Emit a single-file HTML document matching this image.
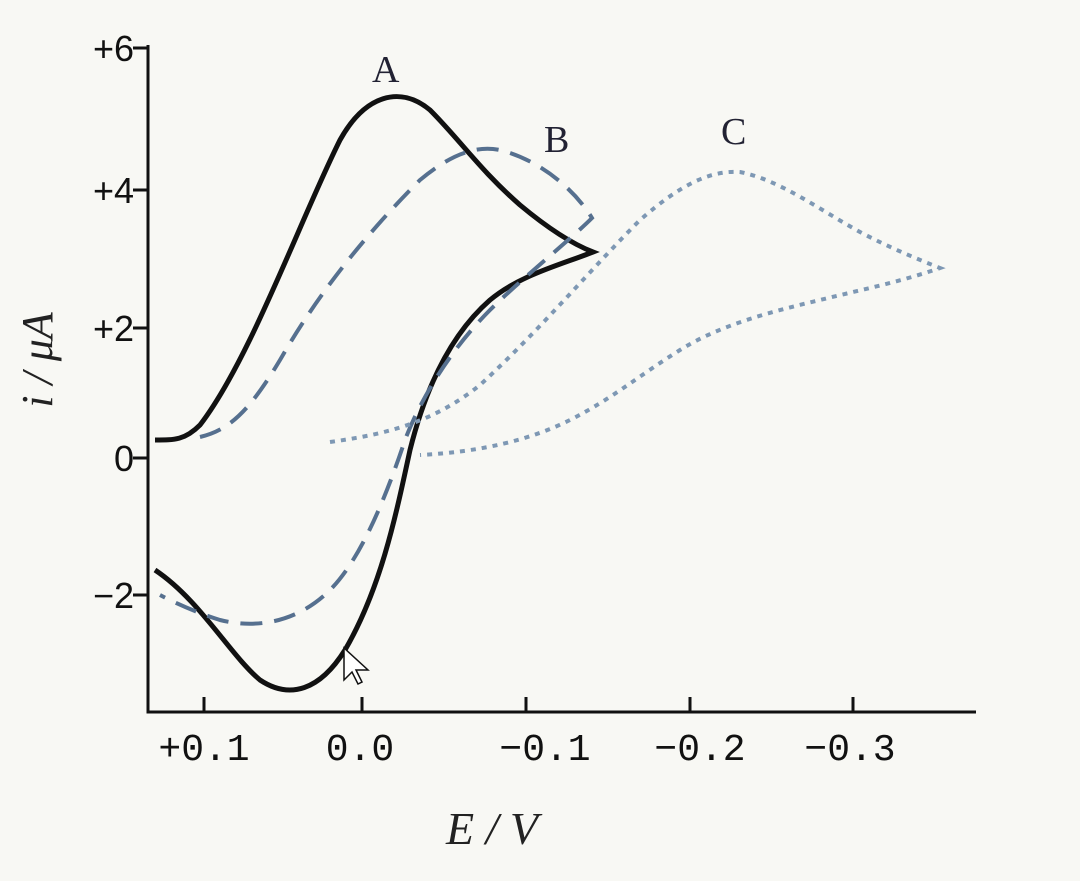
<!DOCTYPE html><html><head><style>body{margin:0;background:#f8f8f4}</style></head><body>
<svg width="1080" height="876" xmlns="http://www.w3.org/2000/svg">
<rect width="1080" height="876" fill="#f8f8f4"/>
<g stroke="#111" stroke-width="3" fill="none">
<path d="M148 45 V712 H976"/>
<path d="M133 48H148M133 190H148M133 328H148M133 458H148M133 595H148"/>
<path d="M204 712V697M362 712V697M526 712V697M690 712V697M853 712V697"/>
</g>
<g font-family="Liberation Sans, sans-serif" font-size="36" fill="#111" text-anchor="end">
<text x="134" y="61">+6</text><text x="134" y="203">+4</text><text x="134" y="341">+2</text><text x="134" y="471">0</text><text x="134" y="608">−2</text>
</g>
<g font-family="Liberation Mono, monospace" font-size="38" fill="#111" text-anchor="middle">
<text x="204" y="760">+0.1</text><text x="360" y="760">0.0</text><text x="545" y="760">−0.1</text><text x="700" y="760">−0.2</text><text x="850" y="760">−0.3</text>
</g>
<text x="492" y="844" font-family="Liberation Serif, serif" font-style="italic" font-size="46" fill="#222" text-anchor="middle">E / V</text>
<text transform="translate(52,360) rotate(-90)" font-family="Liberation Serif, serif" font-style="italic" font-size="44" fill="#222" text-anchor="middle">i / μA</text>
<g font-family="Liberation Serif, serif" font-size="38" fill="#223">
<text x="372" y="82">A</text><text x="544" y="152">B</text><text x="721" y="144">C</text>
</g>
<path d="M155 440 C175 440 185 440 200 425 C250 360 300 220 340 140 C365 95 400 85 430 110 C460 140 480 170 520 205 C550 230 575 245 593 252 C560 265 520 275 490 300 C450 335 425 390 410 450 C395 520 380 590 345 650 C320 690 290 700 260 680 C230 655 200 600 155 570" fill="none" stroke="#111" stroke-width="5"/>
<path d="M200 437 C230 430 250 410 280 360 C320 290 370 230 420 180 C450 155 475 145 500 150 C540 160 575 190 592 218 C570 240 520 280 490 310 C450 350 420 400 405 440 C385 500 360 560 330 590 C300 620 260 630 220 620 C195 612 175 603 160 595" fill="none" stroke="#56708f" stroke-width="4" stroke-dasharray="22 12"/>
<path d="M330 442 C380 435 430 425 480 385 C540 330 590 270 640 220 C680 185 710 170 740 172 C780 180 820 210 860 232 C890 248 920 260 940 268 C900 282 860 290 820 300 C770 312 720 325 680 350 C640 375 610 400 570 420 C530 440 480 452 420 455" fill="none" stroke="#7e98b4" stroke-width="4" stroke-dasharray="5 6"/>
<path d="M344 648 L344 680 L352 672 L358 684 L362 682 L356 670 L368 670 Z" fill="#fff" stroke="#111" stroke-width="1.5"/>
</svg>
</body></html>
